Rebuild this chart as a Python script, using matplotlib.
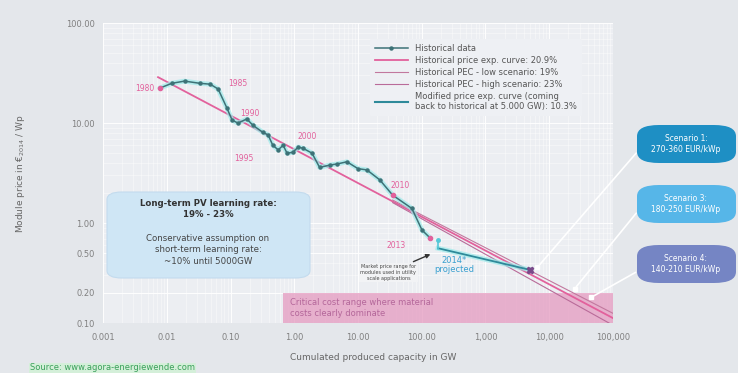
import numpy as np
import matplotlib.pyplot as plt
from matplotlib.patches import FancyBboxPatch, Rectangle
from matplotlib.ticker import FixedLocator, NullFormatter

# historical module price data (cumulated GW, EUR2014/Wp)
hist_gw = [0.0078, 0.012, 0.019, 0.033, 0.048, 0.064, 0.088, 0.106, 0.131, 0.18,
           0.225, 0.32, 0.39, 0.46, 0.56, 0.67, 0.77, 0.95, 1.15, 1.37, 1.9, 2.5,
           3.6, 4.7, 6.7, 10.0, 13.8, 22.0, 35.0, 70.0, 101.0, 135.0]
hist_price = [22.4, 25.0, 26.3, 25.0, 24.5, 21.9, 14.1, 10.7, 10.0, 11.0, 9.5,
              8.1, 7.6, 6.0, 5.4, 6.0, 5.0, 5.1, 5.75, 5.6, 5.0, 3.6, 3.8, 3.9,
              4.1, 3.5, 3.4, 2.7, 1.9, 1.4, 0.85, 0.71]

# experience curves (end points, straight in log-log)
pec_gw = [0.0073, 100000]
pec_price = [28.8, 0.112]
low_gw = [35, 100000]
low_price = [1.7, 0.125]
high_gw = [35, 100000]
high_price = [1.6, 0.095]
mod_gw = [180, 5000]
mod_price = [0.56, 0.34]

proj_gw = 180
proj_range = [0.55, 0.68]

year_labels = ["1980", "1985", "1990", "1995", "2000", "2010", "2013"]
year_gw = [0.0045, 0.13, 0.2, 0.16, 1.6, 45, 40]
year_price = [22.4, 25.0, 12.5, 4.4, 7.4, 2.4, 0.6]

scen_texts = ["Scenario 1:\n270-360 EUR/kWp", "Scenario 3:\n180-250 EUR/kWp",
              "Scenario 4:\n140-210 EUR/kWp"]
scen_colors = ["#1e8fc4", "#56b6e8", "#7585c4"]
scen_target_gw = [6500, 25000, 45000]
scen_target_price = [0.36, 0.22, 0.18]

x_ticks = [0.001, 0.01, 0.1, 1, 10, 100, 1000, 10000, 100000]
x_ticklabels = ["0.001", "0.01", "0.10", "1.00", "10.00", "100.00", "1,000",
                "10,000", "100,000"]
y_ticks = [0.1, 0.2, 0.5, 1, 10, 100]
y_ticklabels = ["0.10", "0.20", "0.50", "1.00", "10.00", "100.00"]

bg = "#e4e7eb"
pink = "#e2619c"
teal = "#3d7277"

fig = plt.figure(figsize=(7.38, 3.73), dpi=100, facecolor=bg)
ax = fig.add_axes([0.1396, 0.134, 0.691, 0.804])
ax.set_facecolor("#eceef2")
ax.set_xscale("log")
ax.set_yscale("log")
ax.set_xlim(0.001, 100000)
ax.set_ylim(0.1, 100)
ax.grid(True, which="major", color="white", lw=0.8, alpha=0.9)
ax.grid(True, which="minor", color="white", lw=0.5, alpha=0.55)
ax.xaxis.set_minor_locator(FixedLocator([m * 10.0 ** e for e in range(-3, 5) for m in range(2, 10)]))
ax.yaxis.set_minor_locator(FixedLocator([m * 10.0 ** e for e in range(-1, 2) for m in range(2, 10)]))
ax.xaxis.set_minor_formatter(NullFormatter())
ax.yaxis.set_minor_formatter(NullFormatter())
ax.set_xticks(x_ticks)
ax.set_xticklabels(x_ticklabels)
ax.set_yticks(y_ticks)
ax.set_yticklabels(y_ticklabels)
ax.tick_params(which="both", length=0, labelsize=6, labelcolor="#808080")
ax.tick_params(axis="y", pad=6)
ax.tick_params(axis="x", pad=7)
for s in ax.spines.values():
    s.set_visible(False)
ax.set_axisbelow(True)

ax.set_xlabel("Cumulated produced capacity in GW", fontsize=6.5, color="#666666", labelpad=7)
ax.xaxis.set_label_coords(0.53, -0.1)
ax.set_ylabel("Module price in €$_{2014}$ / Wp", fontsize=6.5, color="#666666", labelpad=28)

# critical cost range band
band = Rectangle((0.67, 0.1), 100000 - 0.67, 0.1, facecolor="#e59ac0", alpha=0.75,
                 edgecolor="none", zorder=1)
ax.add_patch(band)
ax.text(0.85, 0.142, "Critical cost range where material\ncosts clearly dominate",
        fontsize=6, color="#b4679a", va="center", ha="left", zorder=2, linespacing=1.3)

# experience curves
ax.plot(pec_gw, pec_price, color=pink, lw=1.3, zorder=3)
ax.plot(low_gw, low_price, color="#c2789e", lw=0.8, zorder=3)
ax.plot(high_gw, high_price, color="#b96b99", lw=0.8, zorder=3)

# historical data
ax.plot(hist_gw, hist_price, color="#9beaea", lw=3.5, alpha=0.7, zorder=4, solid_capstyle="round")
ax.plot(hist_gw, hist_price, color=teal, lw=1.1, marker="o", ms=2.2, zorder=5)
ax.plot(hist_gw[0], hist_price[0], "o", color=pink, ms=3, zorder=6)
ax.plot(hist_gw[-1], hist_price[-1], "o", color=pink, ms=3, zorder=6)
ax.plot(hist_gw[-4], hist_price[-4], "o", color=pink, ms=3, zorder=6)

# modified curve
ax.plot(mod_gw, mod_price, color="#9beaea", lw=3.5, alpha=0.7, zorder=4)
ax.plot(mod_gw, mod_price, color="#2e8a9a", lw=1.3, zorder=5)
ax.plot([proj_gw, proj_gw], proj_range, color="#55c8d8", lw=1.2, zorder=5)
ax.plot([proj_gw], [proj_range[1]], "o", color="#55c8d8", ms=2.5, zorder=5)
ax.plot(mod_gw[1], mod_price[1], "X", color="#7a4a8a", ms=5, zorder=6)

# legend entries (own handles so order matches the original)
h_hist, = ax.plot([], [], color=teal, lw=1.1, marker="o", ms=2.2)
h_pec, = ax.plot([], [], color=pink, lw=1.3)
h_low, = ax.plot([], [], color="#c2789e", lw=0.8)
h_high, = ax.plot([], [], color="#b96b99", lw=0.8)
h_mod, = ax.plot([], [], color="#2e8a9a", lw=1.5)
leg_labels = ["Historical data", "Historical price exp. curve: 20.9%",
              "Historical PEC - low scenario: 19%", "Historical PEC - high scenario: 23%",
              "Modified price exp. curve (coming\nback to historical at 5.000 GW): 10.3%"]

# year labels
for lab, xg, yp in zip(year_labels, year_gw, year_price):
    ax.text(xg, yp, lab, fontsize=5.5, color=pink, ha="center", va="center", zorder=6)
ax.text(320, 0.38, "2014*\nprojected", fontsize=6, color="#3aa0d0", ha="center",
        va="center", linespacing=1.1, zorder=6)

# market price annotation
ax.annotate("Market price range for\nmodules used in utility\nscale applications",
            xy=(150, 0.5), xytext=(30, 0.32), fontsize=3.5, color="#444444",
            ha="center", va="center", linespacing=1.2, zorder=6,
            bbox=dict(boxstyle="square,pad=0.3", fc="#f2f3f5", ec="none"),
            arrowprops=dict(arrowstyle="-|>", color="#333333", lw=1.0, mutation_scale=6))

# info box
info = FancyBboxPatch((107 / 738, 1 - 278 / 373), 203 / 738, 86 / 373,
                      boxstyle="round,pad=0,rounding_size=0.02", transform=fig.transFigure,
                      facecolor="#cfe6f5", edgecolor="#c3dbee", lw=0.8, zorder=5)
fig.patches.append(info)
fig.text(208 / 738, 1 - 209 / 373, "Long-term PV learning rate:\n19% - 23%", fontsize=6.2,
         fontweight="bold", color="#333333", ha="center", va="center", linespacing=1.3,
         zorder=8)
fig.text(208 / 738, 1 - 250 / 373, "Conservative assumption on\nshort-term learning rate:\n~10% until 5000GW",
         fontsize=6.2, color="#444444", ha="center", va="center", linespacing=1.3, zorder=8)

# legend
leg = ax.legend([h_hist, h_pec, h_low, h_high, h_mod], leg_labels, loc="upper left",
                bbox_to_anchor=(0.515, 0.96), fontsize=6, frameon=True,
                facecolor="#eef0f4", edgecolor="none", framealpha=1, handlelength=4,
                labelspacing=0.35, borderpad=0.6, labelcolor="#555555")
leg.set_zorder(7)

# scenario boxes
box_tops = [125, 185, 245]
for txt, col, top, tg, tp in zip(scen_texts, scen_colors, box_tops, scen_target_gw, scen_target_price):
    p = FancyBboxPatch((637 / 738, 1 - (top + 38) / 373), 99 / 738, 38 / 373,
                       boxstyle="round,pad=0,rounding_size=0.03", transform=fig.transFigure,
                       facecolor=col, edgecolor="none", zorder=5)
    fig.patches.append(p)
    fig.text(686 / 738, 1 - (top + 19) / 373, txt, fontsize=5.5, color="white",
             ha="center", va="center", linespacing=1.4, zorder=8)
    ax.annotate("", xy=(tg, tp), xytext=(638 / 738, 1 - (top + 26) / 373),
                textcoords="figure fraction",
                arrowprops=dict(arrowstyle="-", color="white", lw=1.2), zorder=6)
    ax.plot(tg, tp, "s", color="white", ms=2.5, zorder=6, clip_on=False)

fig.text(30 / 738, 1 - 368 / 373, "Source: www.agora-energiewende.com", fontsize=6,
         color="#3aa05a", ha="left", va="center", zorder=8,
         bbox=dict(boxstyle="square,pad=0.1", fc="#d4efd9", ec="none"))

fig.savefig("out.png", dpi=100, facecolor=bg)
